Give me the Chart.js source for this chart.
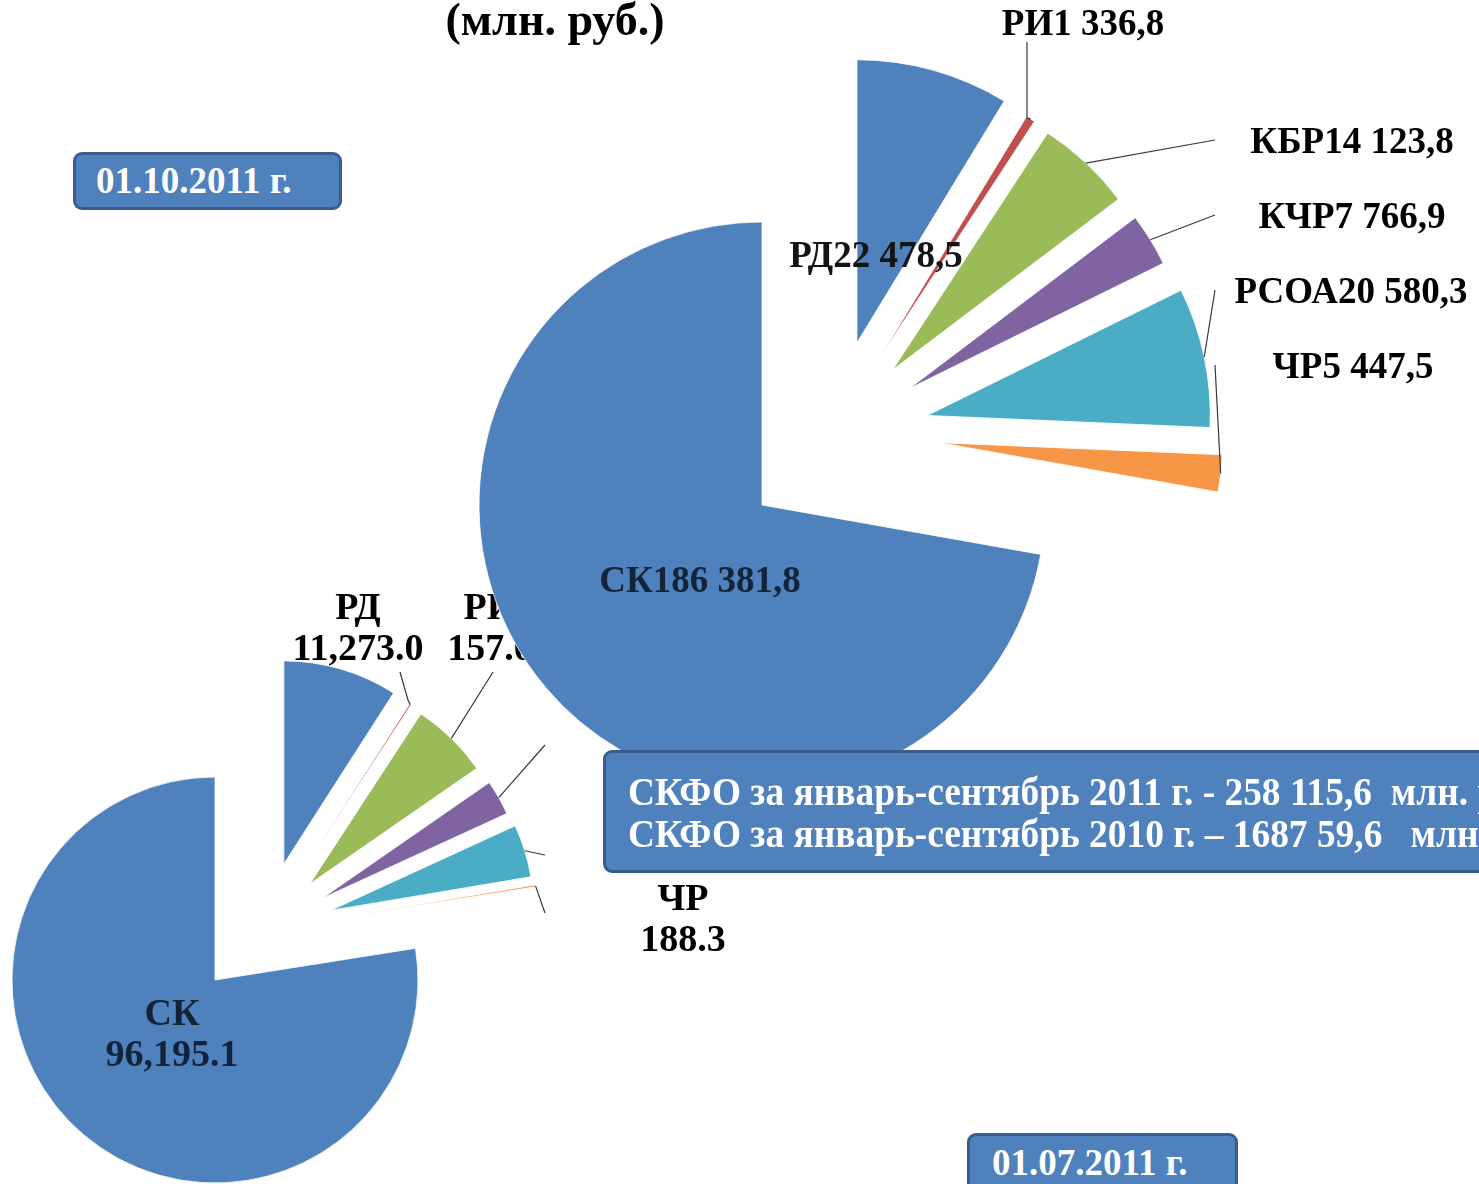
<!DOCTYPE html>
<html>
<head>
<meta charset="utf-8">
<script src="https://cdn.jsdelivr.net/npm/chart.js@4.4.0/dist/chart.umd.min.js"></script>
<style>
    html, body { margin: 0; padding: 0; background: #fff; overflow: hidden; }
    body { width: 1479px; height: 1184px; position: relative; font-family: "Liberation Serif", "Times New Roman", serif; }
    canvas { position: absolute; left: 0; top: 0; }
    #pie-jul { z-index: 1; }
    #pie-oct { z-index: 2; }

    .title { position: absolute; z-index: 4; left: 355px; width: 400px; top: -3px; text-align: center;
             font-weight: bold; font-size: 46px; line-height: 46px; color: #000; }

    .blue-box { position: absolute; z-index: 3; background: #4F81BD; border: 3px solid #385D8A;
                border-radius: 9px; color: #fff; font-weight: bold; box-sizing: border-box; white-space: pre; }
    #box-oct { left: 73px; top: 152px; width: 269px; height: 58px; font-size: 37px; line-height: 52px; padding-left: 20px; }
    #box-jul { left: 967px; top: 1133px; width: 271px; height: 80px; font-size: 37px; line-height: 54px; padding-left: 22px; }
    #box-total { left: 603px; top: 750px; width: 1000px; height: 123px; }
    #box-total span { position: absolute; left: 22px; font-size: 40px; line-height: 40px;
                      transform: scaleX(0.935); transform-origin: left center; }
</style>
</head>
<body>

<div class="title">(млн. руб.)</div>
<div class="blue-box" id="box-oct">01.10.2011 г.</div>
<div class="blue-box" id="box-jul">01.07.2011 г.</div>
<div class="blue-box" id="box-total">
    <span style="top:19px">СКФО за январь-сентябрь 2011 г. - 258 115,6  млн. руб.</span>
    <span style="top:61px">СКФО за январь-сентябрь 2010 г. – 1687 59,6   млн. руб.</span>
</div>

<canvas id="pie-jul" width="1479" height="1184"></canvas>
<canvas id="pie-oct" width="1479" height="1184"></canvas>

<script>
// Regions of the North Caucasus federal district, in slice order (clockwise from 12 o'clock)
const regions = ['РД', 'РИ', 'КБР', 'КЧР', 'РСОА', 'ЧР', 'СК'];

// Values on 01.10.2011 (big pie)
const octValues = [22478.5, 1336.8, 14123.8, 7766.9, 20580.3, 5447.5, 186381.8];

// Values on 01.07.2011 (small pie). KBR, KCHR and RSOA labels are hidden in the
// picture, so those three are estimated from the slice angles
const julValues = [11273.0, 157.0, 7640.0, 3470.0, 5210.0, 188.3, 96195.1];

// Slice colours (Office palette)
const sliceColors = ['#4F81BD', '#C0504D', '#9BBB59', '#8064A2', '#4BACC6', '#F79646', '#4F81BD'];

// Number formats: the big pie uses Russian style, the small one English style
function fmt(v, group, dec) {
    let parts = v.toFixed(1).split('.');
    return parts[0].replace(/\B(?=(\d{3})+(?!\d))/g, group) + dec + parts[1];
}

// Where an exploded slice is moved to. The slices are pulled out towards the
// upper right, half along their own middle and half along the "aim" direction
function shiftOf(arc) {
    const mid = (arc.startAngle + arc.endAngle) / 2;
    const dir = 0.5 * mid + 0.5 * arc.$aim;
    return { x: Math.cos(dir) * arc.$shift, y: Math.sin(dir) * arc.$shift };
}

// Moves the exploded slices (Chart.js offset would also trim thin slices away)
const explode = {
    id: 'explode',
    afterUpdate(chart, args, opts) {
        chart.getDatasetMeta(0).data.forEach((arc, i) => {
            arc.$shift = opts.dists[i];
            arc.$aim = opts.aim;
            if (arc.$patched) return;
            const baseDraw = arc.draw;
            arc.draw = function (ctx, area) {
                const s = shiftOf(this);
                ctx.save();
                ctx.translate(s.x, s.y);
                baseDraw.call(this, ctx, area);
                ctx.restore();
            };
            arc.$patched = true;
        });
    }
};

// Draws the data labels and leader lines for a pie
const pieLabels = {
    id: 'pieLabels',
    afterDatasetsDraw(chart, args, opts) {
        const ctx = chart.ctx;
        const meta = chart.getDatasetMeta(0);
        ctx.save();
        meta.data.forEach((arc, i) => {
            const spot = opts.spots[i];
            if (!spot) return;

            // Leader line: from the label anchor to the middle of the slice's outer edge
            if (spot.leader) {
                const mid = (arc.startAngle + arc.endAngle) / 2;
                const s = shiftOf(arc);
                ctx.beginPath();
                ctx.strokeStyle = '#3a3a3a';
                ctx.lineWidth = 1.2;
                spot.leader.forEach((pt, k) => k === 0 ? ctx.moveTo(pt[0], pt[1]) : ctx.lineTo(pt[0], pt[1]));
                ctx.lineTo(arc.x + s.x + Math.cos(mid) * arc.outerRadius,
                           arc.y + s.y + Math.sin(mid) * arc.outerRadius);
                ctx.stroke();
            }

            // Label text (one or two lines)
            ctx.font = 'bold ' + opts.fontSize + 'px "Liberation Serif"';
            ctx.textAlign = 'center';
            ctx.textBaseline = 'alphabetic';
            ctx.fillStyle = spot.color || '#000';
            opts.texts[i].forEach((t, k) => ctx.fillText(t, spot.x, spot.y + k * 41));
        });
        ctx.restore();
    }
};

function makePie(id, values, texts, spots, radius, dists, padding, fontSize) {
    return new Chart(document.getElementById(id), {
        type: 'pie',
        plugins: [explode, pieLabels],
        data: {
            labels: regions,
            datasets: [{
                data: values,
                backgroundColor: sliceColors,
                borderColor: '#ffffff',
                borderWidth: 0.8,
                clip: false
            }]
        },
        options: {
            responsive: false,
            animation: false,
            events: [],
            radius: radius,
            layout: { padding: padding },
            plugins: {
                legend: { display: false },
                tooltip: { enabled: false },
                explode: { dists: dists, aim: -Math.PI / 4 },
                pieLabels: { texts: texts, spots: spots, fontSize: fontSize }
            }
        }
    });
}

// Big pie, 01.10.2011
const octTexts = regions.map((r, i) => [r + fmt(octValues[i], ' ', ',')]);
const octSpots = [
    { x: 876, y: 267, color: '#141414' },
    { x: 1083, y: 35, leader: [[1027, 42], [1027, 118]] },
    { x: 1352, y: 153, leader: [[1215, 140]] },
    { x: 1352, y: 228, leader: [[1215, 215]] },
    { x: 1351, y: 303, leader: [[1215, 290]] },
    { x: 1353, y: 378, leader: [[1215, 365]] },
    { x: 700, y: 592, color: '#13233a' }
];
makePie('pie-oct', octValues, octTexts, octSpots, 283,
    [188, 188, 188, 188, 188, 188, 0],
    { left: 45, right: 0, top: 0, bottom: 174 }, 37);

// Small pie, 01.07.2011
const julTexts = regions.map((r, i) => [r, fmt(julValues[i], ',', '.')]);
const julSpots = [
    { x: 358, y: 619 },
    { x: 490, y: 619, leader: [[400, 672], [408, 700]] },
    { x: 660, y: 690, leader: [[493, 672]] },
    { x: 700, y: 795, leader: [[545, 745]] },
    { x: 900, y: 795, leader: [[545, 855]] },
    { x: 683, y: 910, leader: [[545, 913]] },
    { x: 172, y: 1025, color: '#13233a' }
];
makePie('pie-jul', julValues, julTexts, julSpots, 203,
    [135, 135, 135, 135, 135, 135, 0],
    { left: 0, right: 1049, top: 776, bottom: 0 }, 38);
</script>
</body>
</html>
